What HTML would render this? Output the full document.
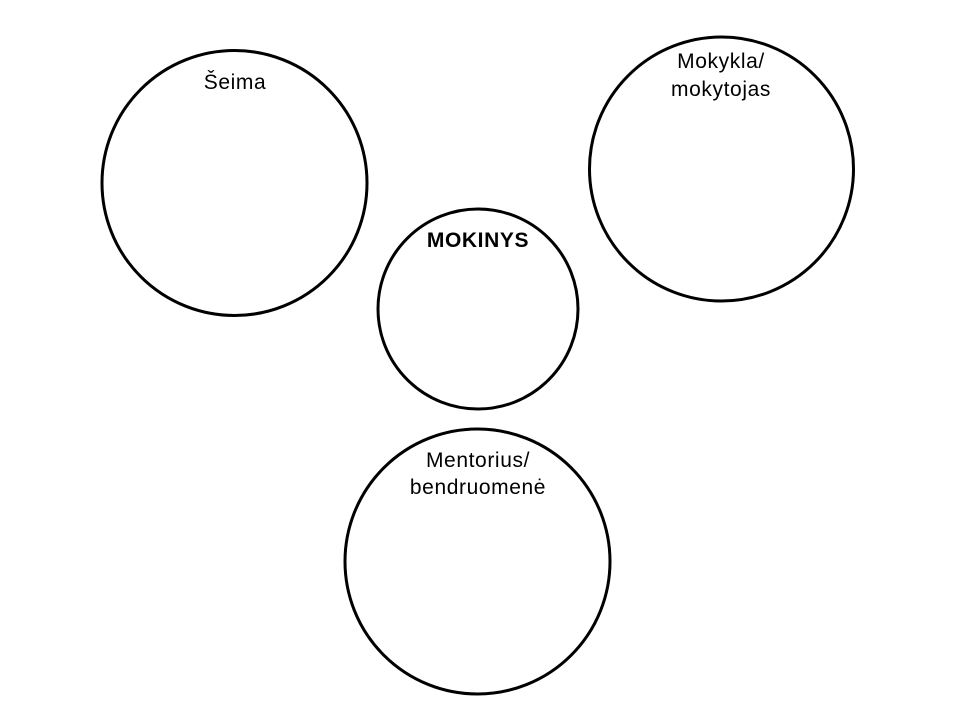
<!DOCTYPE html>
<html><head><meta charset="utf-8"><style>
html,body{margin:0;padding:0;background:#fff;}
svg{display:block;}
text{font-family:"Liberation Sans","DejaVu Sans",sans-serif;font-size:21px;letter-spacing:0.6px;fill:#000;text-anchor:middle;}
</style></head><body>
<svg width="955" height="727" viewBox="0 0 955 727" xmlns="http://www.w3.org/2000/svg">
<rect width="955" height="727" fill="#fff"/>
<g fill="none" stroke="#000" stroke-width="3">
<circle cx="234.5" cy="183" r="132.5"/>
<circle cx="721.5" cy="169" r="132"/>
<circle cx="478" cy="309" r="100"/>
<circle cx="477.5" cy="561.5" r="132.5"/>
</g>
<text x="235" y="89">Šeima</text>
<text x="721" y="68">Mokykla/</text>
<text x="721" y="96">mokytojas</text>
<text x="478" y="247" font-weight="bold">MOKINYS</text>
<text x="478" y="467">Mentorius/</text>
<text x="478" y="494">bendruomenė</text>
</svg>
</body></html>
